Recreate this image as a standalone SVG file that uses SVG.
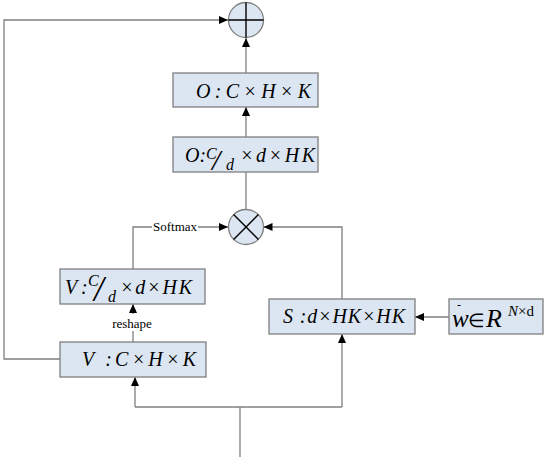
<svg xmlns="http://www.w3.org/2000/svg" width="546" height="457" viewBox="0 0 546 457">
<defs>
<marker id="arr" markerWidth="9" markerHeight="8" refX="9" refY="4" orient="auto" markerUnits="userSpaceOnUse">
<path d="M0,0 L9,4 L0,8 z" fill="#000"/>
</marker>
<style>
.box{fill:#dce6f2;stroke:#7f7f7f;stroke-width:1.3}
.ln{fill:none;stroke:#7f7f7f;stroke-width:1.3}
.op{fill:#dce6f2;stroke:#7f7f7f;stroke-width:1.3}
.cross{stroke:#000;stroke-width:1.4}
.it{font-family:"Liberation Serif","Times New Roman",serif;font-style:italic;fill:#000}
.rm{font-family:"Liberation Serif","Times New Roman",serif;fill:#000}
</style>
</defs>
<rect width="546" height="457" fill="#fff"/>
<g id="connectors">
<polyline class="ln" points="60,359 4,359 4,20 228,20" marker-end="url(#arr)"/>
<line class="ln" x1="246" y1="73" x2="246" y2="38" marker-end="url(#arr)"/>
<line class="ln" x1="246" y1="137" x2="246" y2="107" marker-end="url(#arr)"/>
<line class="ln" x1="246" y1="209" x2="246" y2="172"/>
<polyline class="ln" points="133,269 133,227 228,227" marker-end="url(#arr)"/>
<polyline class="ln" points="342,299 342,227 263.5,227" marker-end="url(#arr)"/>
<line class="ln" x1="133" y1="342" x2="133" y2="304" marker-end="url(#arr)"/>
<line class="ln" x1="449" y1="317" x2="415" y2="317" marker-end="url(#arr)"/>
<line class="ln" x1="240" y1="457" x2="240" y2="407"/>
<polyline class="ln" points="135,407 342,407"/>
<line class="ln" x1="135" y1="407" x2="135" y2="377" marker-end="url(#arr)"/>
<line class="ln" x1="342" y1="407" x2="342" y2="334" marker-end="url(#arr)"/>
<rect x="152" y="218" width="46" height="16" fill="#fff"/>
<text class="rm" x="175" y="231" text-anchor="middle" style="font-size:13px">Softmax</text>
<rect x="111" y="314" width="43" height="17" fill="#fff"/>
<text class="rm" x="132" y="328" text-anchor="middle" style="font-size:13px">reshape</text>
</g>
<g id="plus">
<circle class="op" cx="246" cy="20" r="17.5"/>
<line class="cross" x1="228.5" y1="20" x2="263.5" y2="20"/>
<line class="cross" x1="246" y1="2.5" x2="246" y2="37.5"/>
</g>
<g id="times">
<circle class="op" cx="246" cy="227" r="17.5"/>
<line class="cross" x1="233.6" y1="214.6" x2="258.4" y2="239.4"/>
<line class="cross" x1="258.4" y1="214.6" x2="233.6" y2="239.4"/>
</g>
<g id="o1">
<rect class="box" x="173" y="73" width="145" height="34"/>
<text class="it" x="196" y="98" style="font-size:20px" textLength="115" lengthAdjust="spacing">O:C×H×K</text>
</g>
<g id="o2">
<rect class="box" x="173" y="137" width="145" height="35"/>
<text class="it" x="185" y="162" style="font-size:20px">O:</text>
<text class="it" x="206" y="159" style="font-size:16px">C</text>
<text class="it" x="212" y="170" style="font-size:30px">/</text>
<text class="it" x="226" y="170" style="font-size:16px">d</text>
<text class="it" x="240" y="162" style="font-size:20px" textLength="75" lengthAdjust="spacing">×d×HK</text>
</g>
<g id="v2">
<rect class="box" x="60" y="269" width="145" height="35"/>
<text class="it" x="65" y="294" style="font-size:20px">V<tspan x="81">:</tspan></text>
<text class="it" x="88" y="286" style="font-size:16px">C</text>
<text class="it" x="94" y="301" style="font-size:35px">/</text>
<text class="it" x="108" y="302" style="font-size:16px">d</text>
<text class="it" x="120" y="294" style="font-size:20px" textLength="72" lengthAdjust="spacing">×d×HK</text>
</g>
<g id="v1">
<rect class="box" x="60" y="342" width="146" height="35"/>
<text class="it" x="82" y="366" style="font-size:20px" textLength="114" lengthAdjust="spacing">V :C×H×K</text>
</g>
<g id="s">
<rect class="box" x="269" y="299" width="146" height="35"/>
<text class="it" x="283" y="323" style="font-size:20px" textLength="122" lengthAdjust="spacing">S :d×HK×HK</text>
</g>
<g id="w">
<rect class="box" x="449" y="299" width="94" height="35"/>
<text class="it" x="452" y="327" style="font-size:25px">w</text>
<text class="rm" x="457" y="309" style="font-size:12px">-</text>
<text class="rm" x="468" y="327" style="font-size:19px">∈</text>
<text class="it" x="486" y="327" style="font-size:26px">R</text>
<text class="it" x="508" y="316" style="font-size:15px">N<tspan style="font-style:normal">×d</tspan></text>
</g>
</svg>
